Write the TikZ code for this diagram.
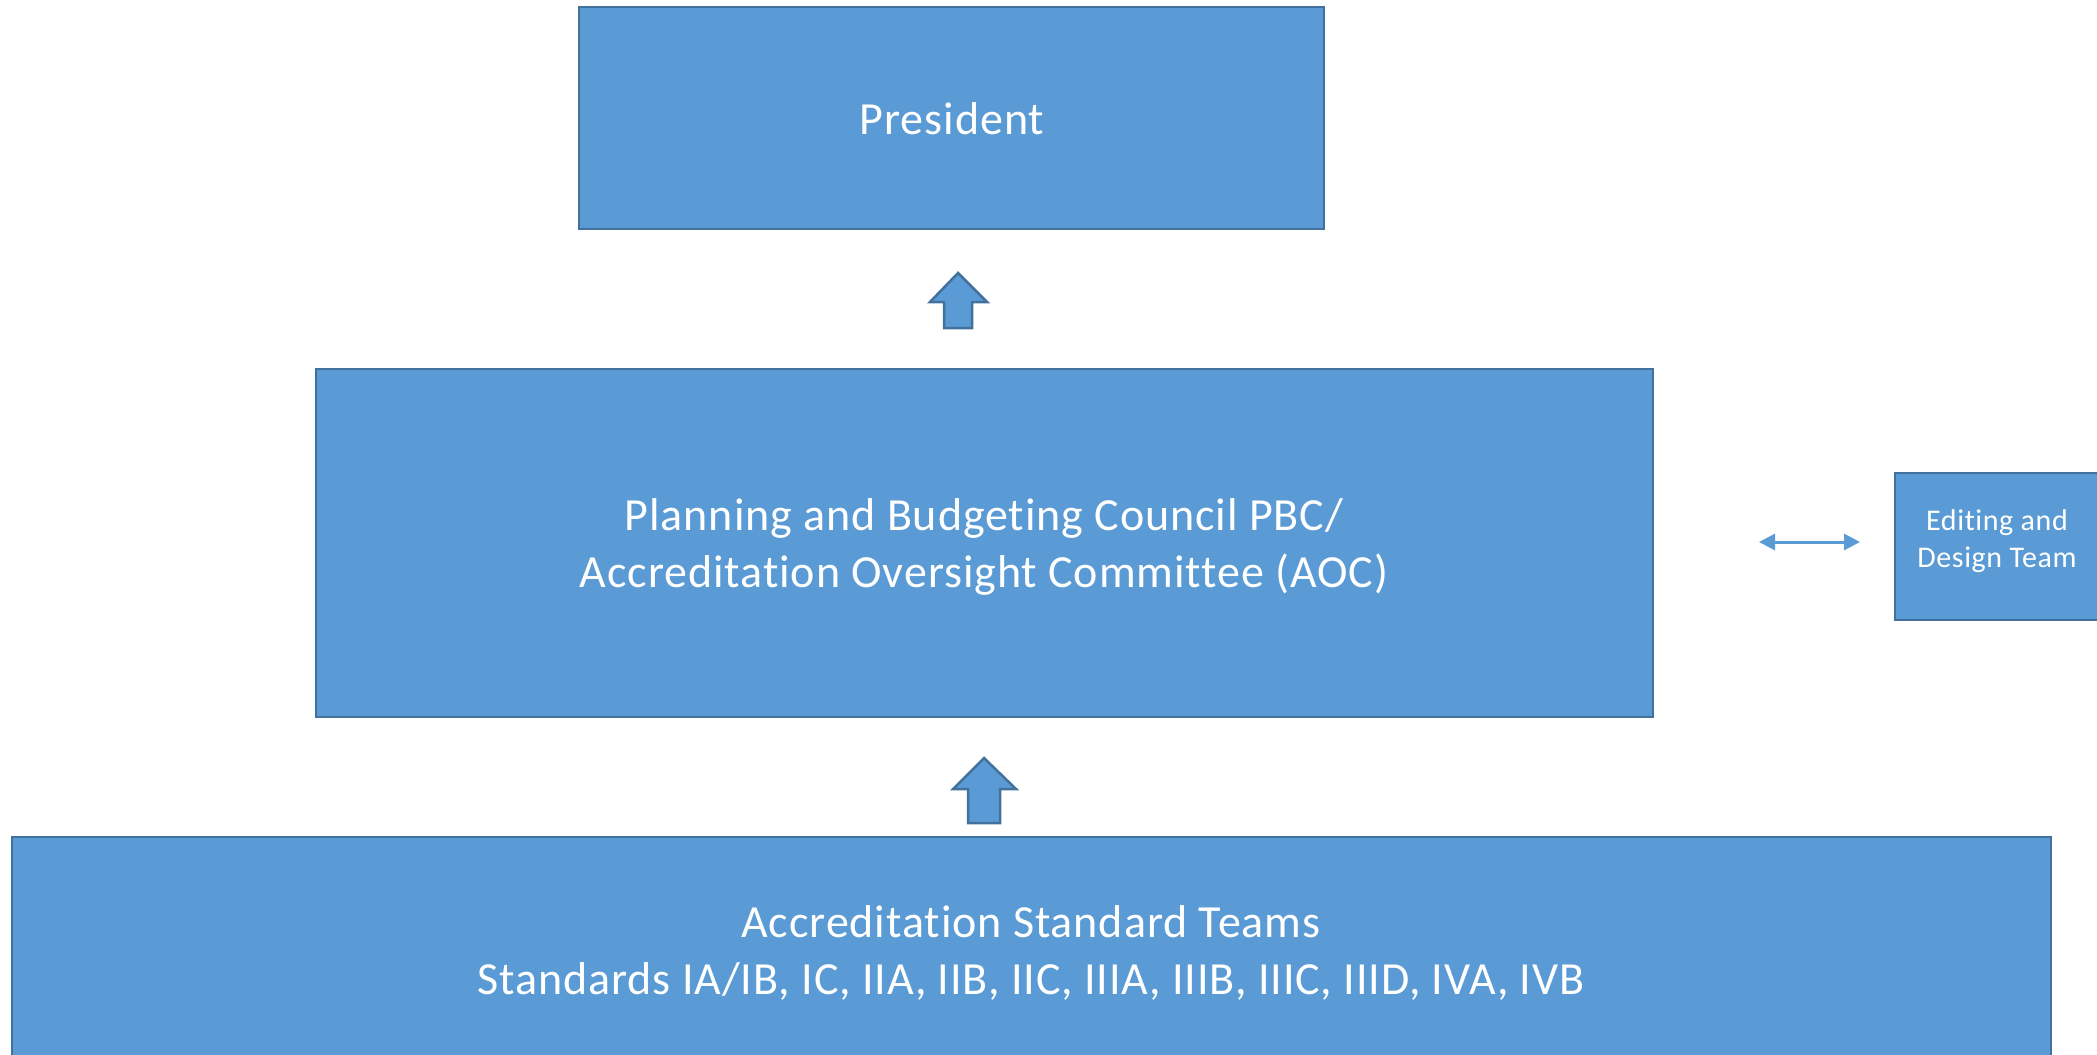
\documentclass[tikz,border=0pt]{standalone}
\usepackage{fontspec}
\setmainfont{Carlito}[RawFeature={-liga},LetterSpace=2]
\usetikzlibrary{arrows.meta}
\definecolor{boxfill}{HTML}{5B9BD5}
\definecolor{boxline}{HTML}{41719C}
\begin{document}
\begin{tikzpicture}[x=1pt,y=-1pt,
  orgbox/.style={draw=boxline,line width=2.5pt,fill=boxfill},
  bigtext/.style={text=white,align=center,font=\fontsize{46}{57}\selectfont},
  smalltext/.style={text=white,align=center,font=\fontsize{30}{37}\selectfont},
  blockarrow/.style={draw=boxline,line width=2.5pt,fill=boxfill,line join=miter}]
\useasboundingbox (0,0) rectangle (2097,1055);
\begin{scope}
\clip (0,0) rectangle (2097,1055);
% boxes
\draw[orgbox] (579,7) rectangle (1324,229);
\node[bigtext] (pres) at (952,119) {President};
\draw[orgbox] (316,369) rectangle (1653,717);
\node[bigtext] (pbc) at (984,547) {Planning and Budgeting Council PBC/\\Accreditation Oversight Committee (AOC)};
\draw[orgbox] (1895,473) rectangle (2100,620);
\node[smalltext] (edit) at (1997,541) {Editing and\\Design Team};
\draw[orgbox] (12,837) rectangle (2051,1070);
\node[bigtext] (ast) at (1031,953) {Accreditation Standard Teams\\Standards IA/IB, IC, IIA, IIB, IIC, IIIA, IIIB, IIIC, IIID, IVA, IVB};
\end{scope}
% block arrows
\draw[blockarrow] (958,273) -- (987,302) -- (972,302) -- (972,328) -- (944,328) -- (944,302) -- (930,302) -- cycle;
\draw[blockarrow] (984,758) -- (1016,789) -- (1000,789) -- (1000,823) -- (968,823) -- (968,789) -- (953,789) -- cycle;
% double arrow
\coordinate (dl) at (1759,542);
\coordinate (dr) at (1860,542);
\draw[boxfill,line width=3pt,{Triangle[length=16pt,width=16pt]}-{Triangle[length=16pt,width=16pt]}] (dl) -- (dr);
\end{tikzpicture}
\end{document}
